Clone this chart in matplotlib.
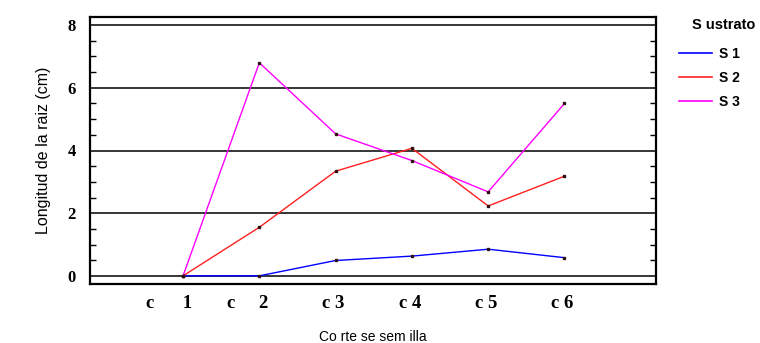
import numpy as np
import matplotlib.pyplot as plt
from matplotlib.transforms import ScaledTranslation

# datos
cortes = ["c      1", "c     2", "c 3", "c 4", "c 5", "c 6"]
pos = [1, 2, 3, 4, 5, 6]
s1 = [0.0, 0.0, 0.49, 0.63, 0.85, 0.58]
s2 = [0.0, 1.55, 3.34, 4.07, 2.23, 3.18]
s3 = [0.0, 6.80, 4.53, 3.68, 2.68, 5.50]
series = {"S 1": (s1, "#0000ff"), "S 2": (s2, "#ff2020"), "S 3": (s3, "#ff00ff")}

fig = plt.figure(figsize=(7.6, 3.43), dpi=100)
ax = fig.add_axes([90/760, 1 - 284/343, 566/760, 267/343])

for nombre, (vals, col) in series.items():
    ax.plot(pos, vals, color=col, lw=1.0, label=nombre, zorder=3)
    ax.plot(pos, vals, ls="none", marker="s", ms=2.0, color="#301010", zorder=4)

ax.set_xlim(-0.22, 7.2)
ax.set_ylim(-0.26, 8.26)

# rejilla horizontal
for yv in [0, 2, 4, 6, 8]:
    ax.axhline(yv, color="black", lw=1.1, zorder=1)

ax.set_yticks([0, 2, 4, 6, 8])
ax.set_yticks(np.arange(0, 8.01, 0.5), minor=True)
ax.tick_params(axis="y", which="both", direction="in", left=True, right=True,
               length=4, width=1)
ax.tick_params(axis="y", which="major", length=0, pad=10)
ax.set_yticklabels(["0", "2", "4", "6", "8"], fontfamily="Liberation Serif",
                   fontweight="bold", fontsize=12)

ax.set_xticks(pos)
ax.set_xticklabels(cortes, fontfamily="Liberation Serif", fontweight="bold",
                   fontsize=13.5)
ax.tick_params(axis="x", length=0, pad=8)
off = ScaledTranslation(9/100, 0, fig.dpi_scale_trans)
for lab in ax.get_xticklabels():
    lab.set_ha("right")
    lab.set_transform(lab.get_transform() + off)

for sp in ax.spines.values():
    sp.set_linewidth(1.6)

ax.set_ylabel("Longitud de la raiz (cm)", fontfamily="Liberation Sans",
              fontsize=11.5, labelpad=12)
ax.set_xlabel("Co rte se sem illa", fontfamily="Liberation Sans", fontsize=10,
              labelpad=13)

# leyenda fuera del eje
handles = [plt.Line2D([], [], color=c, lw=1.2) for _, c in series.values()]
fig.legend(handles, list(series.keys()), loc="upper left",
           bbox_to_anchor=(666/760, 1 - 34/343), frameon=False,
           handlelength=2.4, handletextpad=0.5, labelspacing=0.75,
           prop={"family": "Liberation Sans", "weight": "bold", "size": 10})
fig.text(692/760, 1 - 25/343, "S ustrato", ha="left", va="center",
         fontfamily="Liberation Sans", fontweight="bold", fontsize=10.5)

fig.savefig("out.png", dpi=100)
